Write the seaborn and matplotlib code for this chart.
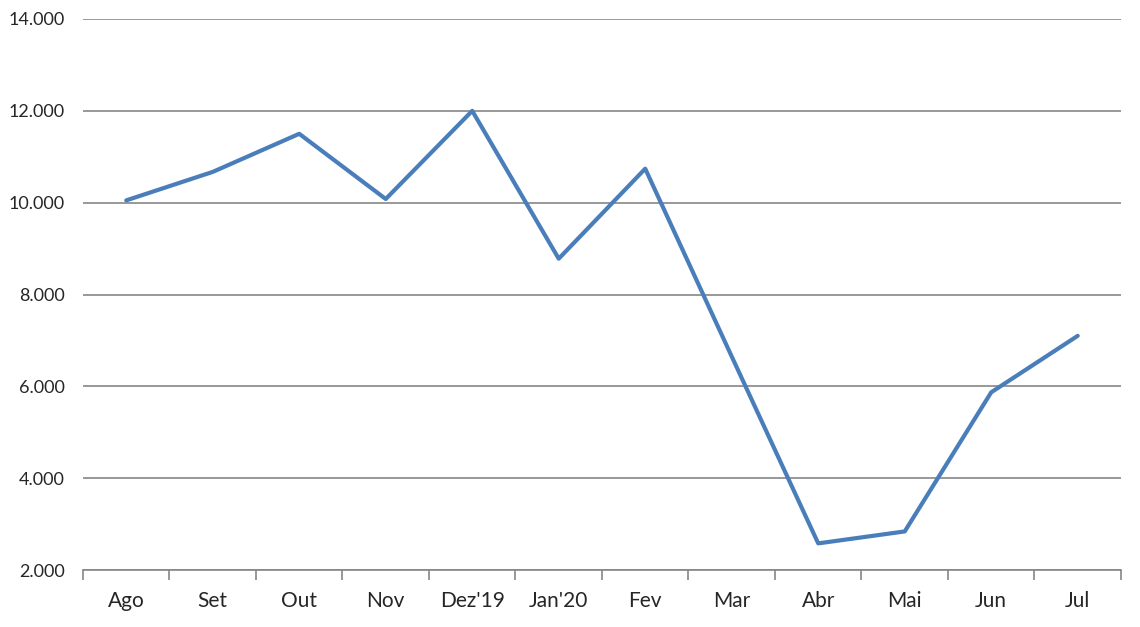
import matplotlib.pyplot as plt
import seaborn as sns
import pandas as pd
import numpy as np
from matplotlib.ticker import FixedLocator, FuncFormatter

months = ['Ago', 'Set', 'Out', 'Nov', "Dez'19", "Jan'20", 'Fev', 'Mar', 'Abr', 'Mai', 'Jun', 'Jul']
values = [10050, 10670, 11500, 10080, 12000, 8780, 10740, 6650, 2580, 2840, 5870, 7100]

sns.set_style('white')
plt.rcParams['font.family'] = ['Lato', 'DejaVu Sans']

df = pd.DataFrame({'pos': np.arange(len(months)), 'value': values})

fig = plt.figure(figsize=(11.4, 6.27), dpi=100)
ax = fig.add_axes([0.0728, 0.0909, 0.9105, 0.8788])

sns.lineplot(data=df, x='pos', y='value', ax=ax, color='#4A7EBB',
             linewidth=3, sort=False)

ax.set_xlim(-0.5, len(months) - 0.5)
ax.set_ylim(2000, 14000)
ax.set_yticks(np.arange(2000, 14001, 2000))
ax.yaxis.set_major_formatter(FuncFormatter(lambda v, p: f'{int(v):,}'.replace(',', '.')))
ax.grid(axis='y', color='#868686', linewidth=1.2)
ax.set_axisbelow(True)

# category labels centered, tick marks at boundaries
ax.set_xticks(np.arange(len(months)))
ax.set_xticklabels(months)
ax.xaxis.set_minor_locator(FixedLocator(np.arange(-0.5, len(months), 1)))
ax.tick_params(axis='x', which='major', length=0, pad=15, labelsize=15)
ax.tick_params(axis='x', which='minor', length=7, width=1.2, color='#868686', direction='out', bottom=True)
ax.tick_params(axis='y', length=0, pad=13, labelsize=13)

for s in ['top', 'right', 'left']:
    ax.spines[s].set_visible(False)
ax.spines['bottom'].set_color('#868686')
ax.spines['bottom'].set_linewidth(1.2)

ax.set_xlabel('')
ax.set_ylabel('')

fig.savefig('out.png', dpi=100)
